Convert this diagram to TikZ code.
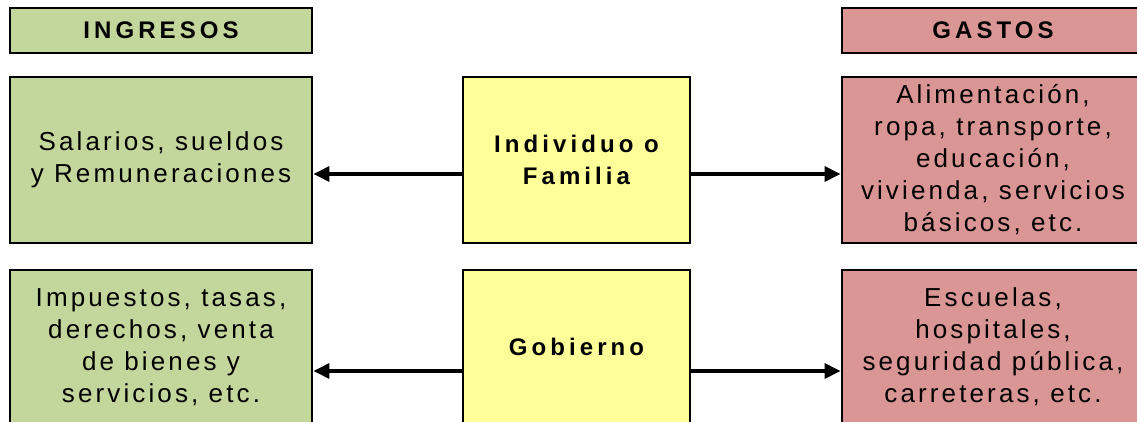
\documentclass[tikz,border=0pt]{standalone}
\usepackage{fontspec}
\setmainfont{Liberation Sans}[LetterSpace=12]
\usepackage{tikz}
\usetikzlibrary{arrows.meta}

\definecolor{ingreso}{HTML}{C3D69B}
\definecolor{gasto}{HTML}{D99694}
\definecolor{centro}{HTML}{FFFF99}

\begin{document}
\begin{tikzpicture}[
		x=0.75pt, y=-0.75pt,
		every node/.style={rectangle, draw, line width=2pt, align=center, inner sep=0pt,
			font=\fontsize{19.5}{24}\selectfont},
		head/.style={minimum width=226.5pt, minimum height=33.75pt,
			font=\fontsize{18}{24}\selectfont\bfseries\addfontfeatures{LetterSpace=17}},
		side/.style={minimum width=226.5pt, minimum height=124.5pt},
		middle/.style={minimum width=170.25pt, minimum height=124.5pt, fill=centro,
			font=\fontsize{18}{24}\selectfont\bfseries\addfontfeatures{LetterSpace=17}},
		flow/.style={line width=3.5pt, -{Triangle[length=12pt, width=11pt]}}
	]
  \useasboundingbox (0,0) rectangle (1137,421);
  \clip (0,0) rectangle (1137,421);
  % encabezados
  \node (ingresos) [head, fill=ingreso] at (161, 30.5) {INGRESOS};
  \node (gastos) [head, fill=gasto] at (993, 30.5) {GASTOS};
  % fila 1
  \node (salarios) [side, fill=ingreso] at (161, 160) {Salarios, sueldos\\y Remuneraciones};
  \node (familia) [middle] at (576.5, 160) {Individuo o\\Familia};
  \node (alimentos) [side, fill=gasto] at (993, 160) {Alimentación,\\ropa, transporte,\\educación,\\vivienda, servicios\\básicos, etc.};
  % fila 2
  \node (impuestos) [side, minimum height=115.5pt, fill=ingreso] at (161, 347) {Impuestos, tasas,\\derechos, venta\\de bienes y\\servicios, etc.};
  \node (gobierno) [middle, minimum height=115.5pt] at (576.5, 347) {Gobierno};
  \node (escuelas) [side, minimum height=115.5pt, fill=gasto] at (993, 347) {Escuelas,\\hospitales,\\seguridad pública,\\carreteras, etc.};
  \draw [flow] ([yshift=-10.5pt]familia.west) -- ([yshift=-10.5pt]familia.west -| salarios.east);
  \draw [flow] ([yshift=-10.5pt]familia.east) -- ([yshift=-10.5pt]familia.east -| alimentos.west);
  \draw [flow] ([yshift=-18pt]gobierno.west) -- ([yshift=-18pt]gobierno.west -| impuestos.east);
  \draw [flow] ([yshift=-18pt]gobierno.east) -- ([yshift=-18pt]gobierno.east -| escuelas.west);
\end{tikzpicture}
\end{document}
